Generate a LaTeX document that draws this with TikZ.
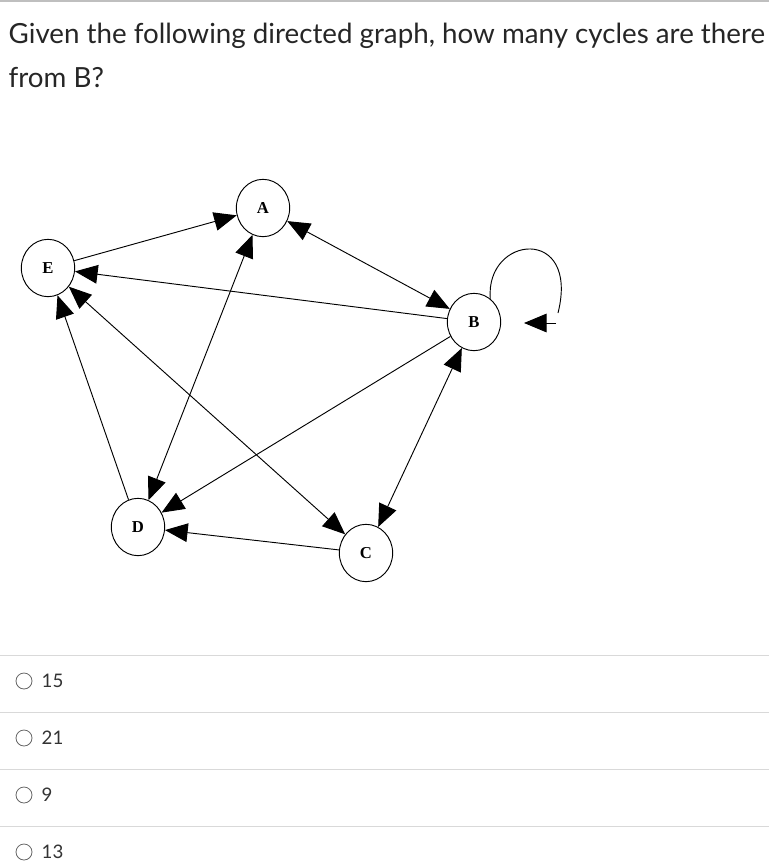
\documentclass[tikz,border=0pt]{standalone}
\usepackage{fontspec}
\setmainfont{Lato}
\newfontfamily\gfont{Liberation Serif}
\usetikzlibrary{arrows.meta,shapes.geometric}
\begin{document}
\begin{tikzpicture}[x=0.75pt,y=-0.75pt,
  vtx/.style={draw,line width=0.7pt,ellipse,minimum width=40pt,minimum height=43pt,inner sep=0pt,font=\gfont\bfseries\fontsize{12.5}{12.5}\selectfont},
  edge/.style={line width=0.7pt,-{Triangle[length=17pt,width=14pt]}},
  bi/.style={line width=0.7pt,{Triangle[length=17pt,width=14pt]}-{Triangle[length=17pt,width=14pt]}},
  opt/.style={anchor=west,font=\fontsize{14}{14}\selectfont,text=black!80},
  sep/.style={draw=black!15,line width=0.6pt}]
\useasboundingbox (0,0) rectangle (769,867);
\draw[draw=black!25,line width=1.2pt] (0,1) -- (769,1);
\node[anchor=west,font=\fontsize{20.8}{20.8}\selectfont,text=black!85] (q1) at (4,36) {Given the following directed graph, how many cycles are there};
\node[anchor=west,font=\fontsize{20.8}{20.8}\selectfont,text=black!85] (q2) at (4,78) {from B?};
\node[vtx] (A) at (263,208) {A};
\node[vtx] (E) at (48,268) {E};
\node[vtx] (B) at (474,322) {B};
\node[vtx] (D) at (138,527) {D};
\node[vtx] (C) at (366,553) {C};
\draw[edge] (E) -- (A);
\draw[bi] (A) -- (B);
\draw[edge] (B) -- (E);
\draw[bi] (A) -- (D);
\draw[edge] (D) -- (E);
\draw[bi] (E) -- (C);
\draw[edge] (B) -- (D);
\draw[bi] (B) -- (C);
\draw[edge] (C) -- (D);
\coordinate (lt) at (524,323);
\coordinate (lb) at (558,313);
\draw[line width=0.7pt] (B.55) .. controls (485,235) and (580,225) .. (lb);
\draw[edge] (556,323) -- (lt);
\foreach \y/\t [count=\i] in {681/15,738/21,795/9,852/13}{
  \node[draw=black!60,circle,line width=0.6pt,minimum size=12pt,inner sep=0pt] (r\i) at (24,\y) {};
  \node[opt] (o\i) at (37,\y) {\t};
}
\foreach \y in {655,712,769,826}{\draw[sep] (0,\y) -- (769,\y);}
\end{tikzpicture}
\end{document}
